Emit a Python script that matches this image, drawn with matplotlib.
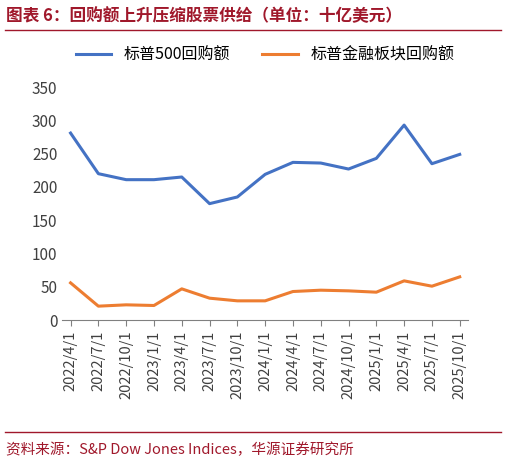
import matplotlib.pyplot as plt

plt.rcParams['font.family'] = ['Noto Sans CJK SC', 'DejaVu Sans']

dates = ["2022/4/1", "2022/7/1", "2022/10/1", "2023/1/1", "2023/4/1", "2023/7/1",
         "2023/10/1", "2024/1/1", "2024/4/1", "2024/7/1", "2024/10/1", "2025/1/1",
         "2025/4/1", "2025/7/1", "2025/10/1"]
sp500 = [281, 220, 211, 211, 215, 175, 185, 219, 237, 236, 227, 243, 293, 235, 249]
financials = [56, 21, 23, 22, 47, 33, 29, 29, 43, 45, 44, 42, 59, 51, 65]

fig = plt.figure(figsize=(5.06, 4.66), dpi=100)
ax = fig.add_axes([0.123, 0.313, 0.802, 0.5])

x = range(len(dates))
ax.plot(x, sp500, color="#4472C4", lw=2.2, label="标普500回购额")
ax.plot(x, financials, color="#ED7D31", lw=2.2, label="标普金融板块回购额")

ax.set_ylim(0, 350)
ax.set_yticks(range(0, 351, 50))
ax.set_xlim(-0.3, len(dates) - 0.7)
ax.set_xticks(list(x))
ax.set_xticklabels(dates, rotation=90, fontsize=10.5, color="#404040")
ax.tick_params(axis="y", labelsize=11, colors="#404040", length=0)
ax.tick_params(axis="x", length=4, color="#808080")
for s in ["top", "right", "left"]:
    ax.spines[s].set_visible(False)
ax.spines["bottom"].set_color("#808080")

ax.legend(loc="lower center", bbox_to_anchor=(0.5, 1.04), ncol=2, frameon=False,
          fontsize=11.5, handlelength=2.2, columnspacing=2.0)

fig.text(0.012, 0.965, "图表 6：回购额上升压缩股票供给（单位：十亿美元）",
         fontsize=12, fontweight="bold", color="#A0182B", va="center")
fig.add_artist(plt.Line2D([0.01, 0.99], [0.936, 0.936], color="#A0182B", lw=1))
fig.add_artist(plt.Line2D([0.01, 0.99], [0.072, 0.072], color="#A0182B", lw=1))
fig.text(0.012, 0.035, "资料来源：S&P Dow Jones Indices，华源证券研究所",
         fontsize=10.5, color="#A0182B", va="center")

fig.savefig("out.png", dpi=100)
